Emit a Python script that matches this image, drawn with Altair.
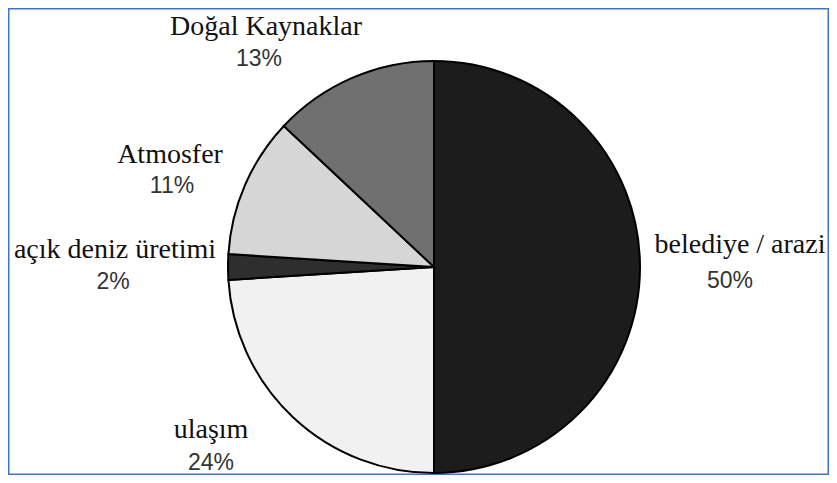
import altair as alt
import pandas as pd

# ---- data ----
categories = ["belediye / arazi", "ulaşım", "açık deniz üretimi", "Atmosfer", "Doğal Kaynaklar"]
values = [50, 24, 2, 11, 13]
pct_labels = ["50%", "24%", "2%", "11%", "13%"]

# ---- styling / layout (kept separate from the data) ----
fills = ["#1c1c1c", "#f1f1f1", "#2e2e2e", "#d6d6d6", "#707070"]
name_pos = [(732, 245), (203, 430), (107, 250), (162, 155), (258, 27)]   # baseline positions
pct_pos = [(722, 280), (203, 462), (105, 281), (164, 185), (251, 58)]

W, H = 821, 467
CX, CY, R = 426, 259, 206

df = pd.DataFrame({
    "category": categories,
    "value": values,
    "pct": pct_labels,
    "order": list(range(len(categories))),
    "nx": [p[0] for p in name_pos],
    "ny": [p[1] for p in name_pos],
    "px": [p[0] for p in pct_pos],
    "py": [p[1] for p in pct_pos],
})

pie = alt.Chart(df).mark_arc(radius=R, stroke="black", strokeWidth=2).encode(
    theta=alt.Theta("value:Q", stack=True),
    order=alt.Order("order:Q"),
    color=alt.Color("category:N",
                    scale=alt.Scale(domain=categories, range=fills),
                    legend=None),
    x=alt.value(CX),
    y=alt.value(CY),
)

names = alt.Chart(df).mark_text(
    font="Liberation Serif", fontSize=28, color="#111111",
    align="center", baseline="alphabetic",
).encode(
    x=alt.X("nx:Q", scale=None),
    y=alt.Y("ny:Q", scale=None),
    text="category:N",
)

pcts = alt.Chart(df).mark_text(
    font="Liberation Sans", fontSize=23, color="#333333",
    align="center", baseline="alphabetic",
).encode(
    x=alt.X("px:Q", scale=None),
    y=alt.Y("py:Q", scale=None),
    text="pct:N",
)

chart = alt.layer(pie, names, pcts).properties(
    width=W, height=H,
    padding=0,
    autosize=alt.AutoSizeParams(type="none"),
    background="white",
).configure_view(stroke="#4472C4", strokeWidth=3)

chart.save("out.html", embed_options={"renderer": "svg", "actions": False})
